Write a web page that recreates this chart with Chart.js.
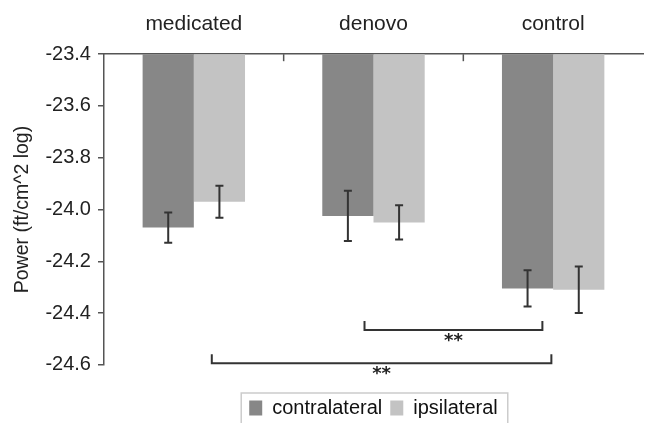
<!DOCTYPE html>
<html>
<head>
<meta charset="utf-8">
<script src="https://cdn.jsdelivr.net/npm/chart.js@4"></script>
<style>
  html, body { margin: 0; padding: 0; background: #fff; }
  #wrap { width: 645px; height: 423px; }
</style>
</head>
<body>
<div id="wrap"><canvas id="myChart"></canvas></div>
<script>
// ---------------- DONNEES ----------------
const groups = ['medicated', 'denovo', 'control'];
const contralateral = [-24.07, -24.025, -24.305];
const ipsilateral = [-23.97, -24.05, -24.31];
const errContra = [0.058, 0.097, 0.07];
const errIpsi = [0.062, 0.066, 0.09];
const yTicks = [-24.6, -24.4, -24.2, -24.0, -23.8, -23.6, -23.4];

// crochets de significativité (index de catégorie fractionnaire, valeur y)
const brackets = [
    { from: 0.95, to: 1.94, y: -24.466, label: '**' },
    { from: 0.10, to: 1.99, y: -24.594, label: '**' }
];

// ---------------- PLUGIN ----------------
const extras = {
    id: 'extras',
    afterDatasetsDraw(chart) {
        const ctx = chart.ctx;
        const y = chart.scales.y;
        const errs = [errContra, errIpsi];

        // barres d'erreur
        ctx.save();
        ctx.strokeStyle = '#333';
        ctx.lineWidth = 2;
        chart.data.datasets.forEach((ds, i) => {
            chart.getDatasetMeta(i).data.forEach((bar, j) => {
                const v = ds.data[j];
                const top = y.getPixelForValue(v + errs[i][j]);
                const bot = y.getPixelForValue(v - errs[i][j]);
                ctx.beginPath();
                ctx.moveTo(bar.x, top); ctx.lineTo(bar.x, bot);
                ctx.moveTo(bar.x - 4, top); ctx.lineTo(bar.x + 4, top);
                ctx.moveTo(bar.x - 4, bot); ctx.lineTo(bar.x + 4, bot);
                ctx.stroke();
            });
        });
        ctx.restore();
    },
    afterDraw(chart) {
        const ctx = chart.ctx;
        const x = chart.scales.x;
        const y = chart.scales.y;
        const area = chart.chartArea;
        const step = x.getPixelForValue(1) - x.getPixelForValue(0);

        // petits traits de l'axe du haut
        ctx.save();
        ctx.strokeStyle = '#555';
        ctx.lineWidth = 1.5;
        for (let i = 0; i < groups.length - 1; i++) {
            const px = (x.getPixelForValue(i) + x.getPixelForValue(i + 1)) / 2;
            ctx.beginPath();
            ctx.moveTo(px, area.top); ctx.lineTo(px, area.top + 7);
            ctx.stroke();
        }

        // crochets
        ctx.strokeStyle = '#333';
        ctx.lineWidth = 2;
        ctx.fillStyle = '#222';
        ctx.font = 'bold 18px "DejaVu Sans", sans-serif';
        ctx.textAlign = 'center';
        ctx.textBaseline = 'middle';
        brackets.forEach(b => {
            const x1 = x.getPixelForValue(0) + b.from * step;
            const x2 = x.getPixelForValue(0) + b.to * step;
            const py = y.getPixelForValue(b.y);
            ctx.beginPath();
            ctx.moveTo(x1, py - 9); ctx.lineTo(x1, py); ctx.lineTo(x2, py); ctx.lineTo(x2, py - 9);
            ctx.stroke();
            ctx.fillText(b.label, (x1 + x2) / 2, py + 11);
        });

        // cadre de la légende
        const items = chart.legend.legendHitBoxes;
        if (items && items.length) {
            const left = items[0].left - 8;
            const last = items[items.length - 1];
            const right = last.left + last.width + 10;
            ctx.strokeStyle = '#ccc';
            ctx.lineWidth = 1.5;
            ctx.strokeRect(left, items[0].top - 5, right - left, 60);
        }
        ctx.restore();
    }
};

// ---------------- GRAPH CHART ----------------
const ctx = document.getElementById('myChart');
new Chart(ctx, {
    type: 'bar',
    data: {
        labels: groups,
        datasets: [{
            label: 'contralateral',
            data: contralateral,
            backgroundColor: '#878787'
        }, {
            label: 'ipsilateral',
            data: ipsilateral,
            backgroundColor: '#c3c3c3'
        }]
    },
    options: {
        responsive: true,
        maintainAspectRatio: false,
        animation: false,
        layout: { padding: { top: 3, right: 2, left: 7, bottom: -5 } },
        datasets: {
            bar: { categoryPercentage: 0.57, barPercentage: 1.0 }
        },
        scales: {
            x: {
                position: 'top',
                grid: { display: false },
                border: { color: '#555', width: 1.5 },
                ticks: {
                    padding: 9,
                    color: '#222',
                    font: { family: '"Liberation Sans", Arial, sans-serif', size: 21 }
                }
            },
            y: {
                min: -24.6,
                max: -23.4,
                afterBuildTicks: (scale) => { scale.ticks = yTicks.map(v => ({ value: v })); },
                grid: { drawOnChartArea: false, tickLength: 6, color: '#555', lineWidth: 1.5 },
                border: { color: '#555', width: 1.5 },
                ticks: {
                    padding: 7,
                    color: '#222',
                    font: { family: '"Liberation Sans", Arial, sans-serif', size: 20 },
                    callback: (v) => Number(v).toFixed(1)
                },
                title: {
                    display: true,
                    text: 'Power (ft/cm^2 log)',
                    color: '#222',
                    padding: { top: 4, bottom: 4 },
                    font: { family: '"Liberation Sans", Arial, sans-serif', size: 19.5 }
                }
            }
        },
        plugins: {
            legend: {
                position: 'bottom',
                fullSize: false,
                title: {
                    display: true,
                    text: ' ',
                    font: { size: 1 },
                    padding: { top: 0, bottom: 24 }
                },
                labels: {
                    boxWidth: 13,
                    boxHeight: 15,
                    padding: 8,
                    color: '#111',
                    font: { family: '"Liberation Sans", Arial, sans-serif', size: 20 }
                }
            },
            tooltip: { enabled: false }
        }
    },
    plugins: [extras]
});
</script>
</body>
</html>
